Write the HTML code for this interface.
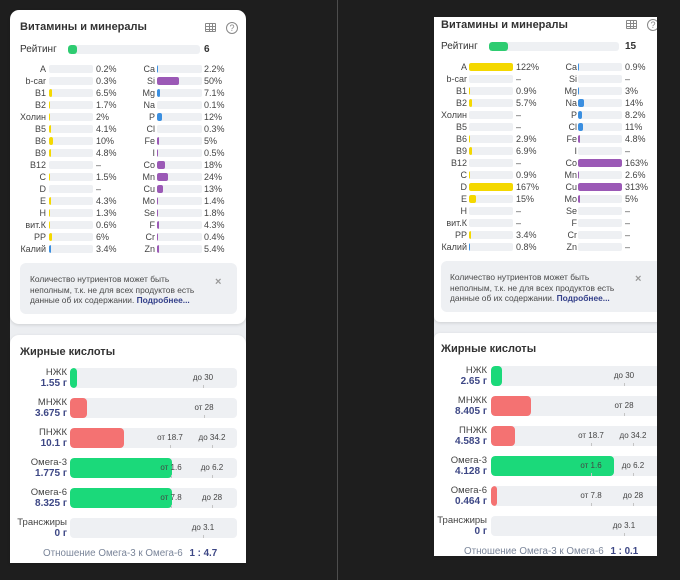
<!DOCTYPE html>
<html><head><meta charset="utf-8">
<style>
*{margin:0;padding:0;box-sizing:border-box}
html,body{width:680px;height:580px;overflow:hidden;background:#1e1e1e;font-family:"Liberation Sans","Noto Sans CJK SC",sans-serif}
.a{position:absolute}
.card{position:absolute;background:#fff;box-shadow:0 1px 3px rgba(0,0,0,.13)}
.gray{position:absolute;background:#eceef1}
.title{position:absolute;font-size:11px;font-weight:bold;color:#333;line-height:14px;white-space:nowrap}
.rt{position:absolute;font-size:10px;color:#333;line-height:12px}
.rv{position:absolute;font-size:10px;font-weight:bold;color:#333;line-height:12px}
.rbar{position:absolute;height:9px;background:#eef0f3;border-radius:3px;overflow:hidden}
.rbar em{display:block;height:9px;background:#2ecc71;border-radius:3px}
.r{position:absolute;left:0;width:680px;height:12px}
.r span{position:absolute;top:0;line-height:12px;font-size:9px;color:#444;white-space:nowrap}
.r span.lb{text-align:right;width:40px}
.r span.bg{top:2px;height:8px;background:#eef0f3;border-radius:2px;overflow:hidden}
.r span.bg em{display:block;height:8px;border-radius:2px}
.y{background:#f4d800}.bl{background:#3b8fe0}.p{background:#9b59b6}
.L .c1l{left:6px}.L .c1b{left:49px;width:44px}.L .c1v{left:96px}
.L .c2l{left:115px}.L .c2b{left:157px;width:45px}.L .c2v{left:204px}
.R .c1l{left:427px}.R .c1b{left:469px;width:44px}.R .c1v{left:516px}
.R .c2l{left:537px}.R .c2b{left:578px;width:44px}.R .c2v{left:625px}
.info{position:absolute;background:#eef0f3;border-radius:6px}
.itxt{position:absolute;font-size:8.4px;line-height:10.5px;color:#4a4a4a;white-space:nowrap}
.itxt b{color:#34408a}
.x{position:absolute;font-size:11px;font-weight:bold;color:#999;line-height:10px}
.fb{position:absolute;height:20px;background:#eef0f3;border-radius:4px;overflow:hidden}
.fb em{display:block;height:20px;border-radius:4px}
.g{background:#1bd97a}.rd{background:#f47272}
.fn{position:absolute;font-size:9.5px;color:#444;line-height:10px;text-align:right;width:60px;white-space:nowrap}
.fv{position:absolute;font-size:10px;font-weight:bold;color:#3d4785;line-height:11px;text-align:right;width:60px;white-space:nowrap}
.mk{position:absolute;font-size:8px;color:#444;line-height:10px;width:40px;margin-left:-20px;text-align:center;white-space:nowrap}
.tk{position:absolute;width:1px;height:3px;background:#c4c4c4}
.ratio{position:absolute;font-size:9.8px;color:#7a8599;line-height:12px;white-space:nowrap}
.ratio b{color:#3d4785;margin-left:4px}
.ico-t{position:absolute;width:11px;height:9px;border:1px solid #888;border-radius:1px;
 background:linear-gradient(#888,#888) 0 2px/100% 1px no-repeat,linear-gradient(#888,#888) 0 5px/100% 1px no-repeat,linear-gradient(#888,#888) 3px 0/1px 100% no-repeat,linear-gradient(#888,#888) 6px 0/1px 100% no-repeat}
.ico-q{position:absolute;width:12px;height:12px;border:1px solid #888;border-radius:50%;font-size:9px;line-height:10px;text-align:center;color:#888}
</style></head><body>

<div class="a" style="left:337px;top:0;width:1px;height:580px;background:#4d4d4d"></div>

<!-- ================= LEFT PANEL ================= -->
<div class="gray" style="left:10px;top:300px;width:236px;height:263px"></div>
<div class="card" style="left:10px;top:10px;width:236px;height:314px;border-radius:9px"></div>
<div class="card" style="left:10px;top:335px;width:236px;height:228px;border-radius:9px 9px 0 0"></div>

<div class="title" style="left:20px;top:20px">Витамины и минералы</div>
<div class="ico-t" style="left:205px;top:23px"></div>
<div class="ico-q" style="left:226px;top:22px">?</div>

<div class="rt" style="left:20px;top:44px">Рейтинг</div>
<div class="rbar" style="left:68px;top:45px;width:132px"><em style="width:9px"></em></div>
<div class="rv" style="left:204px;top:44px">6</div>

<div class="L">
<div class="r" style="top:63px"><span class="lb c1l">A</span><span class="bg c1b"><em class="y" style="width:0"></em></span><span class="c1v">0.2%</span><span class="lb c2l">Ca</span><span class="bg c2b"><em class="bl" style="width:1px"></em></span><span class="c2v">2.2%</span></div>
<div class="r" style="top:75px"><span class="lb c1l">b-car</span><span class="bg c1b"><em class="y" style="width:0"></em></span><span class="c1v">0.3%</span><span class="lb c2l">Si</span><span class="bg c2b"><em class="p" style="width:22px"></em></span><span class="c2v">50%</span></div>
<div class="r" style="top:87px"><span class="lb c1l">B1</span><span class="bg c1b"><em class="y" style="width:3px"></em></span><span class="c1v">6.5%</span><span class="lb c2l">Mg</span><span class="bg c2b"><em class="bl" style="width:3px"></em></span><span class="c2v">7.1%</span></div>
<div class="r" style="top:99px"><span class="lb c1l">B2</span><span class="bg c1b"><em class="y" style="width:1px"></em></span><span class="c1v">1.7%</span><span class="lb c2l">Na</span><span class="bg c2b"><em class="bl" style="width:0"></em></span><span class="c2v">0.1%</span></div>
<div class="r" style="top:111px"><span class="lb c1l">Холин</span><span class="bg c1b"><em class="y" style="width:1px"></em></span><span class="c1v">2%</span><span class="lb c2l">P</span><span class="bg c2b"><em class="bl" style="width:5px"></em></span><span class="c2v">12%</span></div>
<div class="r" style="top:123px"><span class="lb c1l">B5</span><span class="bg c1b"><em class="y" style="width:2px"></em></span><span class="c1v">4.1%</span><span class="lb c2l">Cl</span><span class="bg c2b"><em class="bl" style="width:0"></em></span><span class="c2v">0.3%</span></div>
<div class="r" style="top:135px"><span class="lb c1l">B6</span><span class="bg c1b"><em class="y" style="width:4px"></em></span><span class="c1v">10%</span><span class="lb c2l">Fe</span><span class="bg c2b"><em class="p" style="width:2px"></em></span><span class="c2v">5%</span></div>
<div class="r" style="top:147px"><span class="lb c1l">B9</span><span class="bg c1b"><em class="y" style="width:2px"></em></span><span class="c1v">4.8%</span><span class="lb c2l">I</span><span class="bg c2b"><em class="p" style="width:1px"></em></span><span class="c2v">0.5%</span></div>
<div class="r" style="top:159px"><span class="lb c1l">B12</span><span class="bg c1b"><em class="y" style="width:0"></em></span><span class="c1v">–</span><span class="lb c2l">Co</span><span class="bg c2b"><em class="p" style="width:8px"></em></span><span class="c2v">18%</span></div>
<div class="r" style="top:171px"><span class="lb c1l">C</span><span class="bg c1b"><em class="y" style="width:1px"></em></span><span class="c1v">1.5%</span><span class="lb c2l">Mn</span><span class="bg c2b"><em class="p" style="width:11px"></em></span><span class="c2v">24%</span></div>
<div class="r" style="top:183px"><span class="lb c1l">D</span><span class="bg c1b"><em class="y" style="width:0"></em></span><span class="c1v">–</span><span class="lb c2l">Cu</span><span class="bg c2b"><em class="p" style="width:6px"></em></span><span class="c2v">13%</span></div>
<div class="r" style="top:195px"><span class="lb c1l">E</span><span class="bg c1b"><em class="y" style="width:2px"></em></span><span class="c1v">4.3%</span><span class="lb c2l">Mo</span><span class="bg c2b"><em class="p" style="width:1px"></em></span><span class="c2v">1.4%</span></div>
<div class="r" style="top:207px"><span class="lb c1l">H</span><span class="bg c1b"><em class="y" style="width:1px"></em></span><span class="c1v">1.3%</span><span class="lb c2l">Se</span><span class="bg c2b"><em class="p" style="width:1px"></em></span><span class="c2v">1.8%</span></div>
<div class="r" style="top:219px"><span class="lb c1l">вит.К</span><span class="bg c1b"><em class="y" style="width:1px"></em></span><span class="c1v">0.6%</span><span class="lb c2l">F</span><span class="bg c2b"><em class="p" style="width:2px"></em></span><span class="c2v">4.3%</span></div>
<div class="r" style="top:231px"><span class="lb c1l">PP</span><span class="bg c1b"><em class="y" style="width:3px"></em></span><span class="c1v">6%</span><span class="lb c2l">Cr</span><span class="bg c2b"><em class="p" style="width:1px"></em></span><span class="c2v">0.4%</span></div>
<div class="r" style="top:243px"><span class="lb c1l">Калий</span><span class="bg c1b"><em class="bl" style="width:2px"></em></span><span class="c1v">3.4%</span><span class="lb c2l">Zn</span><span class="bg c2b"><em class="p" style="width:2px"></em></span><span class="c2v">5.4%</span></div>
</div>

<div class="info" style="left:20px;top:263px;width:217px;height:51px"></div>
<div class="itxt" style="left:30px;top:274px">Количество нутриентов может быть<br>неполным, т.к. не для всех продуктов есть<br>данные об их содержании. <b>Подробнее...</b></div>
<div class="x" style="left:215px;top:277px">×</div>

<div class="title" style="left:20px;top:345px">Жирные кислоты</div>

<div class="fn" style="left:7px;top:368px">НЖК</div><div class="fv" style="left:7px;top:378px">1.55 г</div>
<div class="fb" style="left:70px;top:368px;width:167px"><em class="g" style="width:7px"></em></div>
<div class="mk" style="left:203px;top:373px">до 30</div><div class="tk" style="left:203px;top:385px"></div>

<div class="fn" style="left:7px;top:398px">МНЖК</div><div class="fv" style="left:7px;top:408px">3.675 г</div>
<div class="fb" style="left:70px;top:398px;width:167px"><em class="rd" style="width:17px"></em></div>
<div class="mk" style="left:204px;top:403px">от 28</div><div class="tk" style="left:204px;top:415px"></div>

<div class="fn" style="left:7px;top:428px">ПНЖК</div><div class="fv" style="left:7px;top:438px">10.1 г</div>
<div class="fb" style="left:70px;top:428px;width:167px"><em class="rd" style="width:54px"></em></div>
<div class="mk" style="left:170px;top:433px">от 18.7</div><div class="tk" style="left:170px;top:445px"></div>
<div class="mk" style="left:212px;top:433px">до 34.2</div><div class="tk" style="left:212px;top:445px"></div>

<div class="fn" style="left:7px;top:458px">Омега-3</div><div class="fv" style="left:7px;top:468px">1.775 г</div>
<div class="fb" style="left:70px;top:458px;width:167px"><em class="g" style="width:102px"></em></div>
<div class="mk" style="left:171px;top:463px">от 1.6</div><div class="tk" style="left:171px;top:475px"></div>
<div class="mk" style="left:212px;top:463px">до 6.2</div><div class="tk" style="left:212px;top:475px"></div>

<div class="fn" style="left:7px;top:488px">Омега-6</div><div class="fv" style="left:7px;top:498px">8.325 г</div>
<div class="fb" style="left:70px;top:488px;width:167px"><em class="g" style="width:102px"></em></div>
<div class="mk" style="left:171px;top:493px">от 7.8</div><div class="tk" style="left:171px;top:505px"></div>
<div class="mk" style="left:212px;top:493px">до 28</div><div class="tk" style="left:212px;top:505px"></div>

<div class="fn" style="left:7px;top:518px">Трансжиры</div><div class="fv" style="left:7px;top:528px">0 г</div>
<div class="fb" style="left:70px;top:518px;width:167px"></div>
<div class="mk" style="left:203px;top:523px">до 3.1</div><div class="tk" style="left:203px;top:535px"></div>

<div class="ratio" style="left:43px;top:548px">Отношение Омега-3 к Омега-6 <b>1 : 4.7</b></div>

<!-- ================= RIGHT PANEL ================= -->
<div class="a" style="left:0;top:0;width:657px;height:580px;overflow:hidden">
<div class="gray" style="left:434px;top:300px;width:240px;height:256px"></div>
<div class="card" style="left:434px;top:17px;width:240px;height:305px;border-radius:0 0 6px 6px"></div>
<div class="card" style="left:434px;top:333px;width:240px;height:223px;border-radius:6px 6px 0 0"></div>

<div class="title" style="left:441px;top:18px">Витамины и минералы</div>
<div class="ico-t" style="left:626px;top:20px"></div>
<div class="ico-q" style="left:647px;top:19px">?</div>

<div class="rt" style="left:441px;top:41px">Рейтинг</div>
<div class="rbar" style="left:489px;top:42px;width:130px"><em style="width:19px"></em></div>
<div class="rv" style="left:625px;top:41px">15</div>

<div class="R">
<div class="r" style="top:61px"><span class="lb c1l">A</span><span class="bg c1b"><em class="y" style="width:44px"></em></span><span class="c1v">122%</span><span class="lb c2l">Ca</span><span class="bg c2b"><em class="bl" style="width:1px"></em></span><span class="c2v">0.9%</span></div>
<div class="r" style="top:73px"><span class="lb c1l">b-car</span><span class="bg c1b"></span><span class="c1v">–</span><span class="lb c2l">Si</span><span class="bg c2b"></span><span class="c2v">–</span></div>
<div class="r" style="top:85px"><span class="lb c1l">B1</span><span class="bg c1b"><em class="y" style="width:1px"></em></span><span class="c1v">0.9%</span><span class="lb c2l">Mg</span><span class="bg c2b"><em class="bl" style="width:1px"></em></span><span class="c2v">3%</span></div>
<div class="r" style="top:97px"><span class="lb c1l">B2</span><span class="bg c1b"><em class="y" style="width:3px"></em></span><span class="c1v">5.7%</span><span class="lb c2l">Na</span><span class="bg c2b"><em class="bl" style="width:6px"></em></span><span class="c2v">14%</span></div>
<div class="r" style="top:109px"><span class="lb c1l">Холин</span><span class="bg c1b"></span><span class="c1v">–</span><span class="lb c2l">P</span><span class="bg c2b"><em class="bl" style="width:4px"></em></span><span class="c2v">8.2%</span></div>
<div class="r" style="top:121px"><span class="lb c1l">B5</span><span class="bg c1b"></span><span class="c1v">–</span><span class="lb c2l">Cl</span><span class="bg c2b"><em class="bl" style="width:5px"></em></span><span class="c2v">11%</span></div>
<div class="r" style="top:133px"><span class="lb c1l">B6</span><span class="bg c1b"><em class="y" style="width:1px"></em></span><span class="c1v">2.9%</span><span class="lb c2l">Fe</span><span class="bg c2b"><em class="p" style="width:2px"></em></span><span class="c2v">4.8%</span></div>
<div class="r" style="top:145px"><span class="lb c1l">B9</span><span class="bg c1b"><em class="y" style="width:3px"></em></span><span class="c1v">6.9%</span><span class="lb c2l">I</span><span class="bg c2b"></span><span class="c2v">–</span></div>
<div class="r" style="top:157px"><span class="lb c1l">B12</span><span class="bg c1b"></span><span class="c1v">–</span><span class="lb c2l">Co</span><span class="bg c2b"><em class="p" style="width:44px"></em></span><span class="c2v">163%</span></div>
<div class="r" style="top:169px"><span class="lb c1l">C</span><span class="bg c1b"><em class="y" style="width:1px"></em></span><span class="c1v">0.9%</span><span class="lb c2l">Mn</span><span class="bg c2b"><em class="p" style="width:1px"></em></span><span class="c2v">2.6%</span></div>
<div class="r" style="top:181px"><span class="lb c1l">D</span><span class="bg c1b"><em class="y" style="width:44px"></em></span><span class="c1v">167%</span><span class="lb c2l">Cu</span><span class="bg c2b"><em class="p" style="width:44px"></em></span><span class="c2v">313%</span></div>
<div class="r" style="top:193px"><span class="lb c1l">E</span><span class="bg c1b"><em class="y" style="width:7px"></em></span><span class="c1v">15%</span><span class="lb c2l">Mo</span><span class="bg c2b"><em class="p" style="width:2px"></em></span><span class="c2v">5%</span></div>
<div class="r" style="top:205px"><span class="lb c1l">H</span><span class="bg c1b"></span><span class="c1v">–</span><span class="lb c2l">Se</span><span class="bg c2b"></span><span class="c2v">–</span></div>
<div class="r" style="top:217px"><span class="lb c1l">вит.К</span><span class="bg c1b"></span><span class="c1v">–</span><span class="lb c2l">F</span><span class="bg c2b"></span><span class="c2v">–</span></div>
<div class="r" style="top:229px"><span class="lb c1l">PP</span><span class="bg c1b"><em class="y" style="width:2px"></em></span><span class="c1v">3.4%</span><span class="lb c2l">Cr</span><span class="bg c2b"></span><span class="c2v">–</span></div>
<div class="r" style="top:241px"><span class="lb c1l">Калий</span><span class="bg c1b"><em class="bl" style="width:1px"></em></span><span class="c1v">0.8%</span><span class="lb c2l">Zn</span><span class="bg c2b"></span><span class="c2v">–</span></div>
</div>

<div class="info" style="left:441px;top:261px;width:225px;height:51px"></div>
<div class="itxt" style="left:450px;top:272px">Количество нутриентов может быть<br>неполным, т.к. не для всех продуктов есть<br>данные об их содержании. <b>Подробнее...</b></div>
<div class="x" style="left:635px;top:274px">×</div>

<div class="title" style="left:441px;top:342px">Жирные кислоты</div>

<div class="fn" style="left:427px;top:366px">НЖК</div><div class="fv" style="left:427px;top:376px">2.65 г</div>
<div class="fb" style="left:491px;top:366px;width:175px"><em class="g" style="width:11px"></em></div>
<div class="mk" style="left:624px;top:371px">до 30</div><div class="tk" style="left:624px;top:383px"></div>

<div class="fn" style="left:427px;top:396px">МНЖК</div><div class="fv" style="left:427px;top:406px">8.405 г</div>
<div class="fb" style="left:491px;top:396px;width:175px"><em class="rd" style="width:40px"></em></div>
<div class="mk" style="left:624px;top:401px">от 28</div><div class="tk" style="left:624px;top:413px"></div>

<div class="fn" style="left:427px;top:426px">ПНЖК</div><div class="fv" style="left:427px;top:436px">4.583 г</div>
<div class="fb" style="left:491px;top:426px;width:175px"><em class="rd" style="width:24px"></em></div>
<div class="mk" style="left:591px;top:431px">от 18.7</div><div class="tk" style="left:591px;top:443px"></div>
<div class="mk" style="left:633px;top:431px">до 34.2</div><div class="tk" style="left:633px;top:443px"></div>

<div class="fn" style="left:427px;top:456px">Омега-3</div><div class="fv" style="left:427px;top:466px">4.128 г</div>
<div class="fb" style="left:491px;top:456px;width:175px"><em class="g" style="width:123px"></em></div>
<div class="mk" style="left:591px;top:461px">от 1.6</div><div class="tk" style="left:591px;top:473px"></div>
<div class="mk" style="left:633px;top:461px">до 6.2</div><div class="tk" style="left:633px;top:473px"></div>

<div class="fn" style="left:427px;top:486px">Омега-6</div><div class="fv" style="left:427px;top:496px">0.464 г</div>
<div class="fb" style="left:491px;top:486px;width:175px"><em class="rd" style="width:6px"></em></div>
<div class="mk" style="left:591px;top:491px">от 7.8</div><div class="tk" style="left:591px;top:503px"></div>
<div class="mk" style="left:633px;top:491px">до 28</div><div class="tk" style="left:633px;top:503px"></div>

<div class="fn" style="left:427px;top:516px">Трансжиры</div><div class="fv" style="left:427px;top:526px">0 г</div>
<div class="fb" style="left:491px;top:516px;width:175px"></div>
<div class="mk" style="left:624px;top:521px">до 3.1</div><div class="tk" style="left:624px;top:533px"></div>

<div class="ratio" style="left:464px;top:546px">Отношение Омега-3 к Омега-6 <b>1 : 0.1</b></div>
</div>

</body></html>
